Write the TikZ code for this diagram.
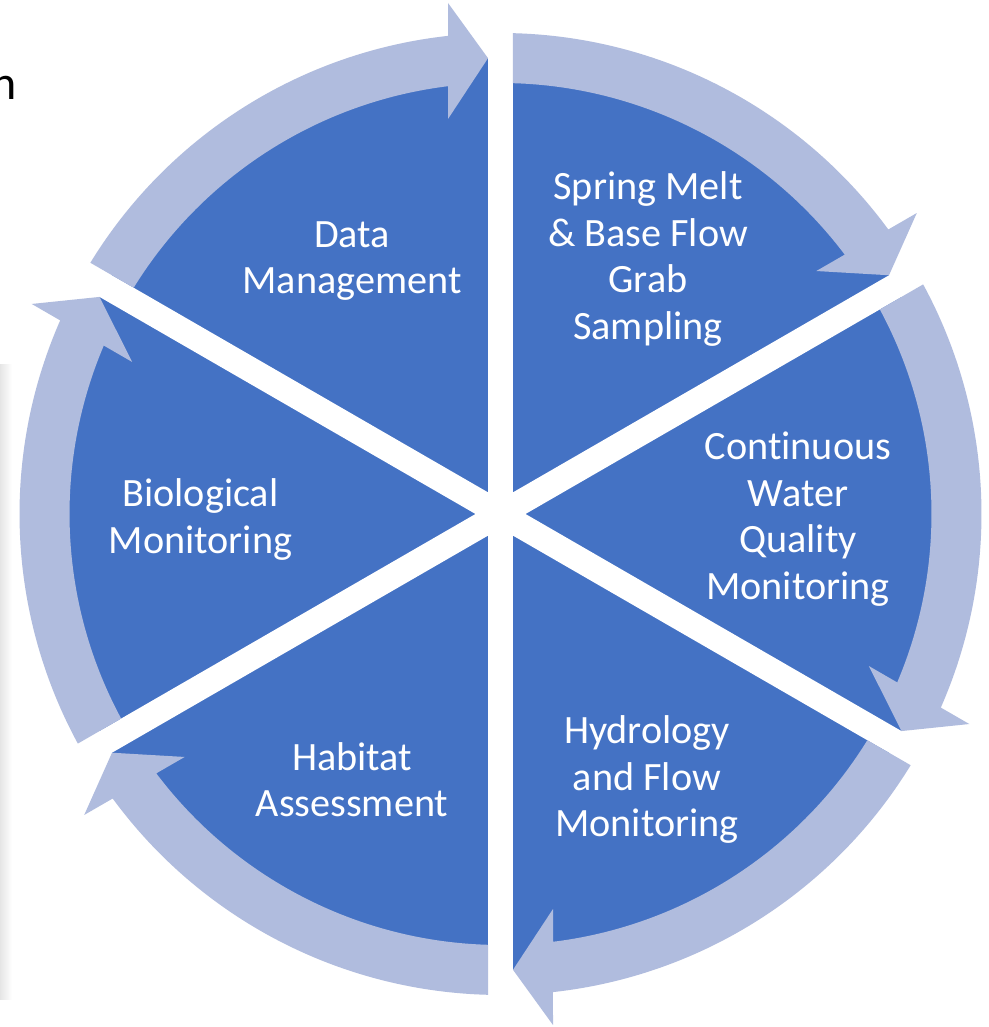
\documentclass[tikz,border=0pt]{standalone}
\usepackage{fontspec}
\setmainfont{Carlito}[Ligatures=NoCommon]
\usetikzlibrary{calc}
\definecolor{segblue}{HTML}{4472C4}
\definecolor{ringblue}{HTML}{B0BCDE}
\begin{document}
\begin{tikzpicture}[x=1pt,y=1pt,
  label text/.style={text=white, align=center, inner sep=0pt,
    font=\fontsize{40.2}{46.5}\selectfont},
  ring arrow/.style={fill=ringblue, draw=none},
  gap strip/.style={fill=white, draw=none}]
\useasboundingbox (0,0) rectangle (988,1027);
\clip (0,0) rectangle (988,1027);
\fill[white] (0,0) rectangle (988,1027);

% soft grey edge on the left
\shade[left color=black!10, right color=white] (0,27) rectangle (12,662);
% cut-off word end at the top left
\node[anchor=base east, inner sep=0pt, font=\fontsize{48}{48}\selectfont] (cut) at (16.5,927) {n};

\coordinate (C) at (500.5,513);

% blue disc split into six segments
\fill[segblue] (C) circle[radius=456pt];
\foreach \g in {90,30,-30}
  \fill[gap strip, shift={(C)}, rotate=\g]
    (-470,-12.5) -- (470,-12.5) -- (470,12.5) -- (-470,12.5) -- cycle;

% curved arrows around the ring, clockwise, one per segment
\foreach \k in {0,...,5}{
  \pgfmathsetmacro{\a}{90-60*\k}
  \pgfmathsetmacro{\b}{\a-60}
  \pgfmathsetmacro{\ta}{\a-1.489}
  \pgfmathsetmacro{\ti}{\a-1.662}
  \pgfmathsetmacro{\no}{\b+6.266}
  \pgfmathsetmacro{\ni}{\b+6.997}
  \pgfmathsetmacro{\bo}{\b+5.866}
  \pgfmathsetmacro{\bi}{\b+7.571}
  \pgfmathsetmacro{\tp}{\b+1.571}
  \fill[ring arrow, shift={(C)}]
    (\ta:481pt) arc[start angle=\ta, end angle=\no, radius=481pt]
    -- (\bo:513.7pt) -- (\tp:456pt) -- (\bi:398.5pt) -- (\ni:431pt)
    arc[start angle=\ni, end angle=\ti, radius=431pt] -- cycle;
}

% segment labels
\node[label text] (dm) at (352,766) {Data\\Management};
\node[label text] (sm) at (648,768) {Spring Melt\\\& Base Flow\\Grab\\Sampling};
\node[label text] (cw) at (798,508) {Continuous\\Water\\Quality\\Monitoring};
\node[label text] (hf) at (647,247) {Hydrology\\and Flow\\Monitoring};
\node[label text] (ha) at (352,247.5) {Habitat\\Assessment};
\node[label text] (bm) at (200.5,507.5) {Biological\\Monitoring};
\end{tikzpicture}
\end{document}
